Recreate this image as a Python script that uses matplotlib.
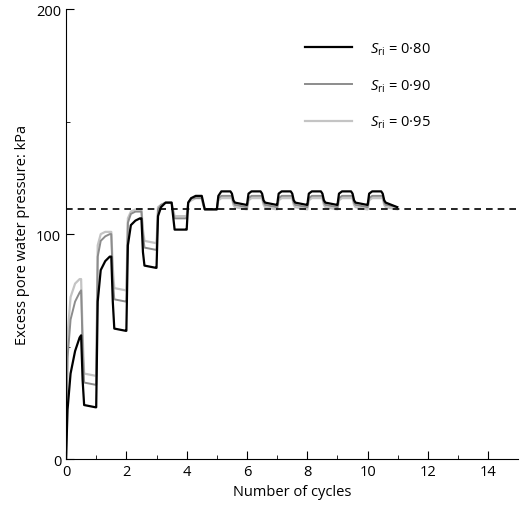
import matplotlib
matplotlib.use("Agg")
import matplotlib.pyplot as plt
import numpy as np

plt.rcParams['font.family'] = ['Open Sans', 'DejaVu Sans']
plt.rcParams['mathtext.fontset'] = 'custom'
plt.rcParams['mathtext.it'] = 'Open Sans:italic'
plt.rcParams['mathtext.rm'] = 'Open Sans'

offsets = [0, 0.05, 0.15, 0.3, 0.45, 0.5, 0.55, 0.6, 0.98]
cycle_starts = [0, 1, 2, 3, 4, 5, 6, 7, 8, 9, 10]

black = [
    [0, 22, 38, 48, 54, 55, 35, 24, 23],
    [23, 70, 84, 88, 90, 90, 70, 58, 57],
    [57, 95, 104, 106, 107, 107, 92, 86, 85],
    [85, 108, 112, 114, 114, 114, 108, 102, 102],
    [102, 114, 116, 117, 117, 117, 114, 111, 111],
    [111, 117, 119, 119, 119, 118, 115, 114, 113],
    [113, 118, 119, 119, 119, 118, 115, 114, 113],
    [113, 118, 119, 119, 119, 118, 115, 114, 113],
    [113, 118, 119, 119, 119, 118, 115, 114, 113],
    [113, 118, 119, 119, 119, 118, 115, 114, 113],
    [113, 118, 119, 119, 119, 118, 115, 114, 112],
]
gray = [
    [0, 45, 62, 70, 74, 75, 50, 34, 33],
    [33, 90, 97, 99, 100, 100, 80, 71, 70],
    [70, 105, 109, 110, 110, 110, 100, 94, 93],
    [93, 111, 113, 114, 114, 114, 110, 107, 107],
    [107, 114, 116, 116, 116, 116, 113, 111, 111],
    [111, 116, 117, 117, 117, 117, 114, 113, 112],
    [112, 116, 117, 117, 117, 117, 114, 113, 112],
    [112, 116, 117, 117, 117, 117, 114, 113, 112],
    [112, 116, 117, 117, 117, 117, 114, 113, 112],
    [112, 116, 117, 117, 117, 117, 114, 113, 112],
    [112, 116, 117, 117, 117, 117, 114, 113, 112],
]
light = [
    [0, 55, 72, 78, 80, 80, 55, 38, 37],
    [37, 95, 100, 101, 101, 101, 85, 76, 75],
    [75, 107, 110, 111, 111, 111, 102, 97, 96],
    [96, 112, 113, 114, 114, 114, 111, 108, 108],
    [108, 114, 115, 116, 116, 116, 113, 111, 111],
    [111, 115, 116, 116, 116, 116, 113, 112, 111],
    [111, 115, 116, 116, 116, 116, 113, 112, 111],
    [111, 115, 116, 116, 116, 116, 113, 112, 111],
    [111, 115, 116, 116, 116, 116, 113, 112, 111],
    [111, 115, 116, 116, 116, 116, 113, 112, 111],
    [111, 115, 116, 116, 116, 116, 113, 112, 111],
]
steady_state = 111
labels = [r'$S_{\rm ri}$ = 0·80', r'$S_{\rm ri}$ = 0·90', r'$S_{\rm ri}$ = 0·95']

def flatten(series):
    xs, ys = [], []
    for c, cyc in zip(cycle_starts, series):
        for o, v in zip(offsets, cyc):
            xs.append(c + o)
            ys.append(v)
    return xs, ys

fig = plt.figure(figsize=(5.2, 5.1), dpi=100)
ax = fig.add_axes([0.127, 0.098, 0.87, 0.882])

for s, col, lw, lab in [(light, '#c4c4c4', 1.6, labels[2]), (gray, '#8c8c8c', 1.4, labels[1]), (black, 'black', 1.6, labels[0])]:
    xs, ys = flatten(s)
    ax.plot(xs, ys, color=col, lw=lw, label=lab)
ax.axhline(steady_state, color='black', ls=(0, (4, 3)), lw=1.2)

ax.set_xlim(0, 15)
ax.set_ylim(0, 200)
ax.set_xticks([0, 2, 4, 6, 8, 10, 12, 14])
ax.set_xticks(range(1, 15, 2), minor=True)
ax.set_yticks([0, 100, 200])
ax.set_yticks([50, 150], minor=True)
ax.tick_params(direction='in', labelsize=10.5, length=6)
ax.tick_params(which='minor', direction='in', length=3)
for sp in ['top', 'right']:
    ax.spines[sp].set_visible(False)
ax.set_xlabel('Number of cycles', fontsize=10.5)
ax.set_ylabel('Excess pore water pressure: kPa', fontsize=10.5)

h, l = ax.get_legend_handles_labels()
ax.legend(h[::-1], l[::-1], frameon=False, loc='upper left', bbox_to_anchor=(0.5, 0.96),
          fontsize=10.5, handlelength=3.2, labelspacing=1.4, handletextpad=1.2)
fig.savefig('out.png', dpi=100)
